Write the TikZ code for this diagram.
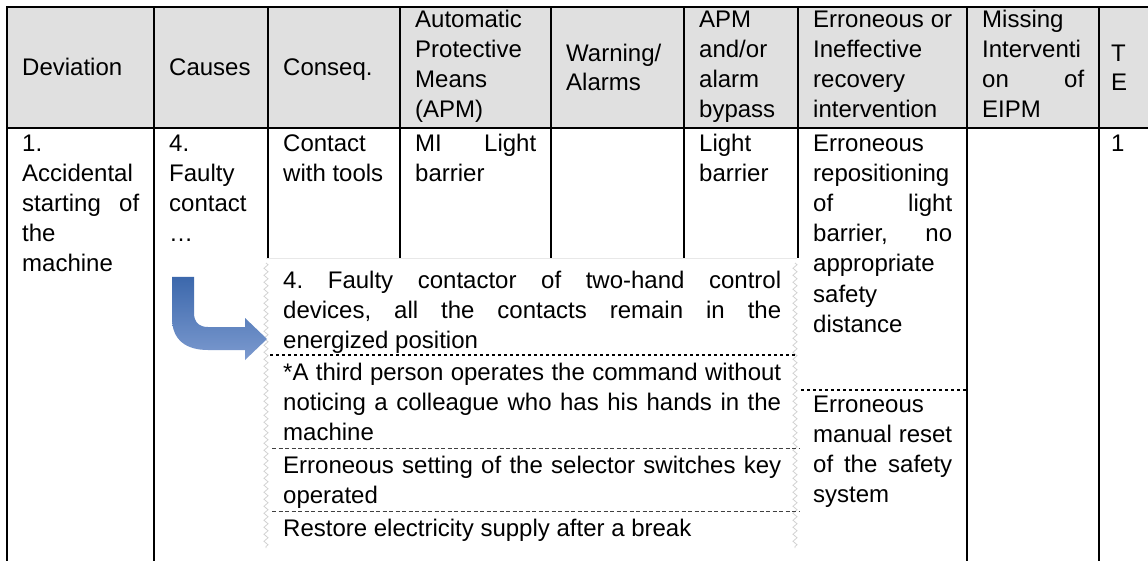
\documentclass[tikz,border=0pt]{standalone}
\usepackage{fontspec}
\setmainfont{Liberation Sans}
\usetikzlibrary{decorations.pathmorphing}
\definecolor{hdr}{RGB}{224,224,224}
\definecolor{arrA}{RGB}{60,104,172}
\definecolor{arrB}{RGB}{124,154,207}
\newcommand{\jline}[2]{\hbox to #1pt{#2}}
\begin{document}
\begin{tikzpicture}[x=1pt,y=-1pt,
  txt/.style={anchor=base west, inner sep=0pt, font=\fontsize{24}{30}\selectfont},
  grid/.style={line width=2pt, black},
  sepdot/.style={line width=2pt, black, dash pattern=on 3pt off 3pt},
  sepdash/.style={line width=1pt, black!75, dash pattern=on 4pt off 2.5pt},
  torn/.style={gray!35, line width=0.8pt, decorate, decoration={zigzag, segment length=7pt, amplitude=2pt}}]
\useasboundingbox (0,0) rectangle (1148,561);
\fill[white] (0,0) rectangle (1148,561);
% table
\fill[hdr] (7,7) rectangle (1148,128);
\draw[grid] (1148,7) -- (7,7) -- (7,561);
\draw[grid] (7,128) -- (1148,128);
\foreach \x in {154,268,400,551,684,798,967,1099} \draw[grid] (\x,7) -- (\x,561);
% header
\node[txt] (hDev) at (22,76) {Deviation};
\node[txt] (hCau) at (169,76) {Causes};
\node[txt] (hCon) at (283,76) {Conseq.};
\node[txt] (hAPa) at (415,28) {Automatic};
\node[txt] (hAPb) at (415,58) {Protective};
\node[txt] (hAPc) at (415,88) {Means};
\node[txt] (hAPd) at (415,118) {(APM)};
\node[txt] (hWa) at (566,62) {Warning/};
\node[txt] (hWb) at (566,91) {Alarms};
\node[txt] (hBa) at (699,28) {APM};
\node[txt] (hBb) at (699,58) {and/or};
\node[txt] (hBc) at (699,88) {alarm};
\node[txt] (hBd) at (699,118) {bypass};
\node[txt] (hEa) at (813,28) {\jline{139}{Erroneous\hfill or}};
\node[txt] (hEb) at (813,58) {Ineffective};
\node[txt] (hEc) at (813,88) {recovery};
\node[txt] (hEd) at (813,118) {intervention};
\node[txt] (hMa) at (982,28) {Missing};
\node[txt] (hMb) at (982,58) {Interventi};
\node[txt] (hMc) at (982,88) {\jline{102}{on\hfill of}};
\node[txt] (hMd) at (982,118) {EIPM};
\node[txt] (hTa) at (1111,62) {T};
\node[txt] (hTb) at (1111,91) {E};
% body
\node[txt] (dA) at (22,152) {1.};
\node[txt] (dB) at (22,182) {Accidental};
\node[txt] (dC) at (22,212) {\jline{117}{starting\hfill of}};
\node[txt] (dD) at (22,242) {the};
\node[txt] (dE) at (22,272) {machine};
\node[txt] (cA) at (169,152) {4.};
\node[txt] (cB) at (169,182) {Faulty};
\node[txt] (cC) at (169,212) {contact};
\node[txt] (cD) at (169,242) {…};
\node[txt] (qA) at (283,152) {Contact};
\node[txt] (qB) at (283,182) {with tools};
\node[txt] (aA) at (415,152) {\jline{121}{MI\hfill Light}};
\node[txt] (aB) at (415,182) {barrier};
\node[txt] (bA) at (699,152) {Light};
\node[txt] (bB) at (699,182) {barrier};
\node[txt] (eA) at (813,152) {Erroneous};
\node[txt] (eB) at (813,182) {repositioning};
\node[txt] (eC) at (813,212) {\jline{139}{of\hfill light}};
\node[txt] (eD) at (813,242) {\jline{139}{barrier,\hfill no}};
\node[txt] (eE) at (813,272) {appropriate};
\node[txt] (eF) at (813,302) {safety};
\node[txt] (eG) at (813,332) {distance};
\draw[sepdot] (801,390) -- (967,390);
\node[txt] (eH) at (813,412) {Erroneous};
\node[txt] (eI) at (813,442) {\jline{139}{manual\hfill reset}};
\node[txt] (eJ) at (813,472) {\jline{139}{of\hfill the\hfill safety}};
\node[txt] (eK) at (813,502) {system};
\node[txt] (tA) at (1111,152) {1};
% popup box
\fill[white] (262,258) rectangle (801,561);
\draw[gray!18, line width=1pt] (266,259) -- (797,259);
\draw[torn] (266,263) -- (266,548);
\draw[torn] (795,263) -- (795,548);
\draw[sepdot] (270,355) -- (797,355);
\draw[sepdash] (272,448) -- (799,448);
\draw[sepdash] (272,511) -- (799,511);
\node[txt] (pA) at (283,288) {\jline{498}{4.\hfill Faulty\hfill contactor\hfill of\hfill two-hand\hfill control}};
\node[txt] (pB) at (283,318) {\jline{498}{devices,\hfill all\hfill the\hfill contacts\hfill remain\hfill in\hfill the}};
\node[txt] (pC) at (283,348) {energized position};
\node[txt] (pD) at (283,380) {\jline{498}{*A\hfill third\hfill person\hfill operates\hfill the\hfill command\hfill without}};
\node[txt] (pE) at (283,410) {\jline{498}{noticing\hfill a\hfill colleague\hfill who\hfill has\hfill his\hfill hands\hfill in\hfill the}};
\node[txt] (pF) at (283,440) {machine};
\node[txt] (pG) at (283,473) {\jline{498}{Erroneous\hfill setting\hfill of\hfill the\hfill selector\hfill switches\hfill key}};
\node[txt] (pH) at (283,503) {operated};
\node[txt] (pI) at (283,536) {Restore electricity supply after a break};
% bent arrow
\shade[top color=arrA, bottom color=arrB]
  (172,277) -- (172,318) .. controls (172,340) and (186,350) .. (208,350)
  -- (245,350) -- (245,360) -- (267,339) -- (245,318) -- (245,327) -- (208,327)
  .. controls (199,327) and (194,322) .. (194,313) -- (194,277) -- cycle;
\end{tikzpicture}
\end{document}
